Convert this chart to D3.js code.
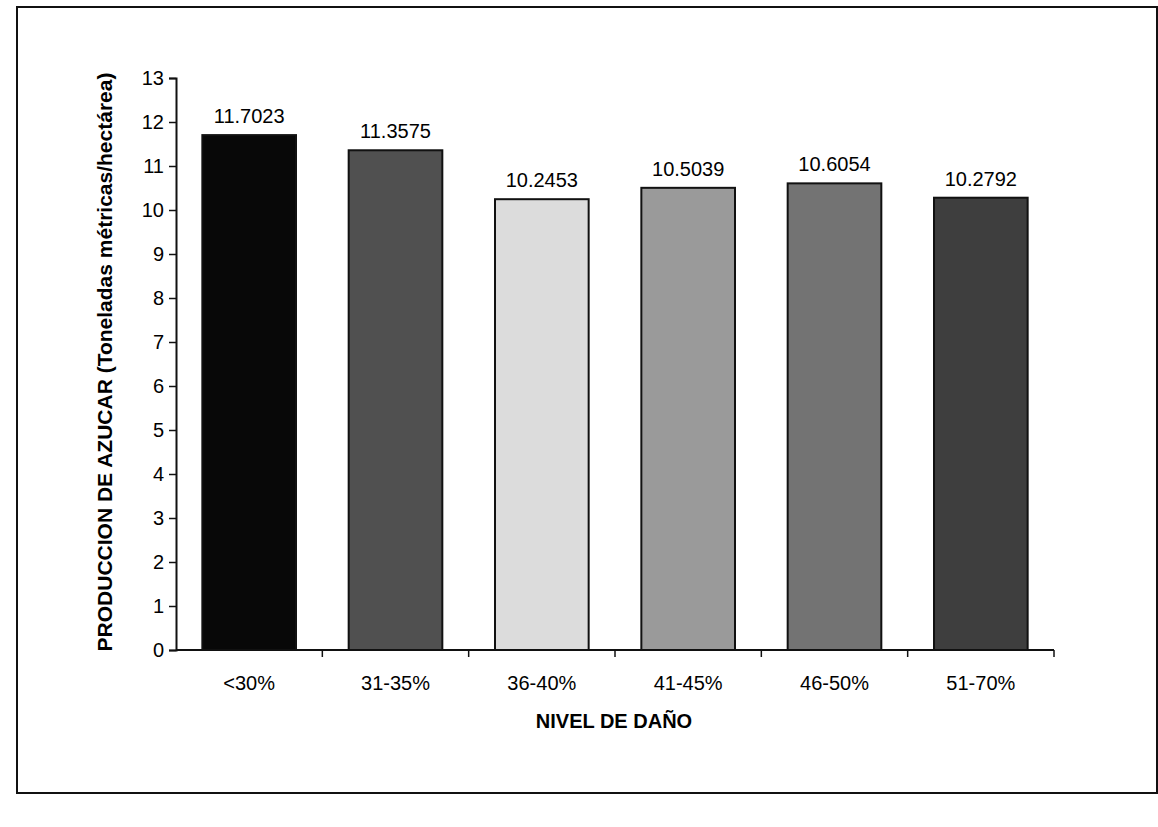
<!DOCTYPE html>
<html>
<head>
<meta charset="utf-8">
<script src="https://cdn.jsdelivr.net/npm/d3@7"></script>
<style>
  html, body { margin: 0; padding: 0; background: #fff; }
  svg { display: block; }
  text { font-family: "Liberation Sans", Arial, sans-serif; fill: #000; }
</style>
</head>
<body>
<svg id="chart" width="1158" height="827"></svg>
<script>
// Sugar production by damage level
const categories = ["<30%", "31-35%", "36-40%", "41-45%", "46-50%", "51-70%"];
const values = [11.7023, 11.3575, 10.2453, 10.5039, 10.6054, 10.2792];
const valueLabels = ["11.7023", "11.3575", "10.2453", "10.5039", "10.6054", "10.2792"];
const fills = ["#080808", "#505050", "#dcdcdc", "#9a9a9a", "#737373", "#3e3e3e"];
const yTicks = [0, 1, 2, 3, 4, 5, 6, 7, 8, 9, 10, 11, 12, 13];
const yTitle = "PRODUCCION DE AZUCAR (Toneladas métricas/hectárea)";
const xTitle = "NIVEL DE DAÑO";

const svg = d3.select("#chart");

// outer frame
svg.append("rect")
  .attr("x", 17).attr("y", 7).attr("width", 1140).attr("height", 786)
  .attr("fill", "none").attr("stroke", "#111").attr("stroke-width", 2);

const plot = { left: 176, right: 1054, top: 78, bottom: 650 };

const x = d3.scaleBand()
  .domain(categories)
  .range([plot.left, plot.right])
  .paddingInner(0.36)
  .paddingOuter(0.18);

const y = d3.scaleLinear()
  .domain([0, 13])
  .range([plot.bottom, plot.top]);

// bars
svg.append("g").selectAll("rect")
  .data(values)
  .join("rect")
  .attr("x", (d, i) => x(categories[i]))
  .attr("y", d => y(d))
  .attr("width", x.bandwidth())
  .attr("height", d => y(0) - y(d))
  .attr("fill", (d, i) => fills[i])
  .attr("stroke", "#111")
  .attr("stroke-width", 2);

// value labels
svg.append("g").selectAll("text")
  .data(values)
  .join("text")
  .attr("x", (d, i) => x(categories[i]) + x.bandwidth() / 2)
  .attr("y", d => y(d) - 12)
  .attr("text-anchor", "middle")
  .attr("font-size", 20)
  .text((d, i) => valueLabels[i]);

// y axis
const yAxis = svg.append("g")
  .attr("transform", `translate(${plot.left},0)`)
  .call(d3.axisLeft(y).tickValues(yTicks).tickSize(7).tickPadding(5).tickFormat(d3.format("d")));
yAxis.select(".domain").attr("stroke", "#111").attr("stroke-width", 2);
yAxis.selectAll(".tick line").attr("stroke", "#111").attr("stroke-width", 1.5);
yAxis.selectAll(".tick text")
  .attr("font-size", 20)
  .attr("font-family", "Liberation Sans, Arial, sans-serif")
  .attr("fill", "#000");

// x axis with ticks on category boundaries
const xAxis = svg.append("g").attr("transform", `translate(0,${plot.bottom})`);
xAxis.append("line")
  .attr("x1", plot.left).attr("x2", plot.right)
  .attr("stroke", "#111").attr("stroke-width", 2);
const step = x.step();
const boundaries = categories.map(c => x(c) - x.paddingOuter() * step).concat([plot.right]);
xAxis.selectAll(".xtick")
  .data(boundaries.slice(1))
  .join("line")
  .attr("x1", d => d).attr("x2", d => d)
  .attr("y1", 0).attr("y2", 7)
  .attr("stroke", "#111").attr("stroke-width", 1.5);
xAxis.selectAll(".xlabel")
  .data(categories)
  .join("text")
  .attr("x", d => x(d) + x.bandwidth() / 2)
  .attr("y", 40)
  .attr("text-anchor", "middle")
  .attr("font-size", 20)
  .text(d => d);

// axis titles
svg.append("text")
  .attr("transform", `translate(112,${362}) rotate(-90)`)
  .attr("text-anchor", "middle")
  .attr("font-size", 21)
  .attr("font-weight", "bold")
  .text(yTitle);

svg.append("text")
  .attr("x", 614).attr("y", 728)
  .attr("text-anchor", "middle")
  .attr("font-size", 20)
  .attr("font-weight", "bold")
  .text(xTitle);
</script>
</body>
</html>
